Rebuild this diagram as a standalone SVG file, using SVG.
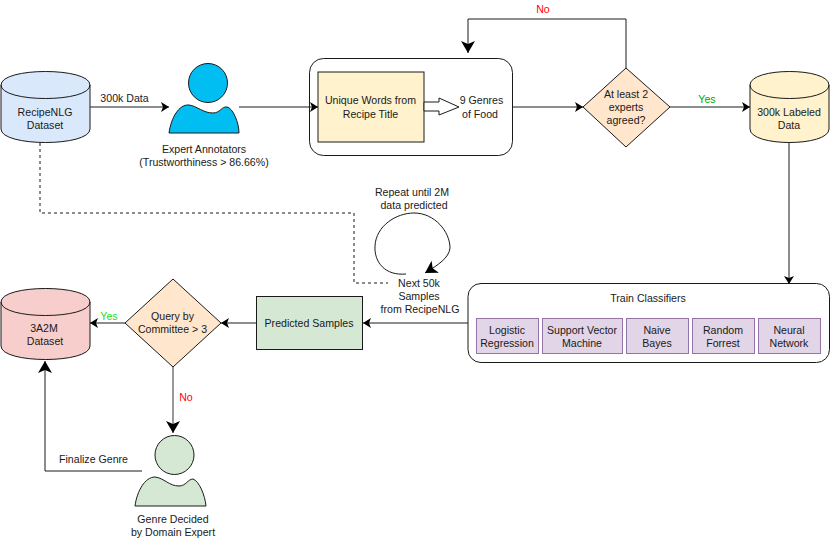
<svg xmlns="http://www.w3.org/2000/svg" width="830" height="542" viewBox="0 0 830 542">
<style>
text{font-family:"Liberation Sans",Arial,sans-serif;font-size:10.6px;fill:#1a1a1a;text-anchor:middle}
.s{stroke:#1a1a1a;stroke-width:1}
.c path{fill:none;stroke:#1a1a1a;stroke-width:1}
.clf{fill:#e1d5e7;stroke:#9673a6;stroke-width:1}
</style>
<defs>
<marker id="a" markerUnits="userSpaceOnUse" markerWidth="9" markerHeight="10" refX="8" refY="5" orient="auto"><path d="M0 0L8 5L0 10L2 5Z" fill="#000"/></marker>
<marker id="b" markerUnits="userSpaceOnUse" markerWidth="13" markerHeight="14" refX="12" refY="7" orient="auto"><path d="M0 0L12 7L0 14L3 7Z" fill="#000"/></marker>
</defs>
<g id="recipenlg">
<path class="s" d="M1 85C1 67 90 67 90 85V129C90 147 1 147 1 129Z" fill="#dae8fc"/>
<path class="s" fill="none" d="M1 85C1 103 90 103 90 85"/>
<text x="45" y="116">RecipeNLG</text><text x="45" y="129">Dataset</text>
</g>
<g id="annotators">
<circle class="s" cx="208" cy="83" r="19.500" fill="#00bef2"/>
<path class="s" fill="#00bef2" d="M169 133C171 118 179 104 189 105C197 106 203 113 213 113C220 113 222 106 227 107C233 108 239 123 239 133Z"/>
<text x="204" y="153">Expert Annotators</text><text x="204" y="166">(Trustworthiness &gt; 86.66%)</text>
</g>
<text x="124.500" y="102">300k Data</text>
<g id="genres">
<rect class="s" x="309.500" y="58.500" width="203" height="97" rx="14" fill="#fff"/>
<rect class="s" x="318" y="72" width="106" height="70" fill="#fff2cc"/>
<text x="370.500" y="104">Unique Words from</text><text x="370.500" y="118">Recipe Title</text>
<path class="s" fill="#fff" d="M424 102H439V98L459 107L439 115V111H424Z"/>
<text x="481.500" y="104">9 Genres</text><text x="480" y="118">of Food</text>
</g>
<text x="543" y="13" style="fill:#f00">No</text>
<g id="agreed">
<path class="s" fill="#ffe6cc" d="M626 68L670 107L626 147L583 107Z"/>
<text x="626" y="98">At least 2</text><text x="626" y="111">experts</text><text x="626" y="124">agreed?</text>
</g>
<text x="707" y="103" style="fill:#0a0">Yes</text>
<g id="labeled">
<path class="s" d="M750 85C750 67 829 67 829 85V129C829 147 750 147 750 129Z" fill="#fff2cc"/>
<path class="s" fill="none" d="M750 85C750 103 829 103 829 85"/>
<text x="789" y="116">300k Labeled</text><text x="789" y="129">Data</text>
</g>
<g id="classifiers">
<rect class="s" x="468" y="283.500" width="361.500" height="79" rx="13" fill="#fff"/>
<text x="648" y="302">Train Classifiers</text>
<rect class="clf" x="476.500" y="318.500" width="62" height="35"/><text x="507" y="333.500">Logistic</text><text x="507" y="346.500">Regression</text>
<rect class="clf" x="542.500" y="318.500" width="80" height="35"/><text x="582" y="333.500">Support Vector</text><text x="582" y="346.500">Machine</text>
<rect class="clf" x="626.500" y="318.500" width="62" height="35"/><text x="657" y="333.500">Naive</text><text x="657" y="346.500">Bayes</text>
<rect class="clf" x="692.500" y="318.500" width="62" height="35"/><text x="723" y="333.500">Random</text><text x="723" y="346.500">Forrest</text>
<rect class="clf" x="758.500" y="318.500" width="62" height="35"/><text x="789" y="333.500">Neural</text><text x="789" y="346.500">Network</text>
</g>
<g id="next">
<text x="419" y="287">Next 50k</text><text x="419" y="300">Samples</text><text x="420" y="313">from RecipeNLG</text>
<text x="412" y="196">Repeat until 2M</text><text x="414" y="209">data predicted</text>
</g>
<g id="predicted">
<rect class="s" x="256.500" y="296.500" width="106" height="53" fill="#d5e8d4"/>
<text x="309" y="326.500">Predicted Samples</text>
</g>
<g id="query">
<path class="s" fill="#ffe6cc" d="M173 279L221 323L173 367L125 323Z"/>
<text x="172.500" y="320">Query by</text><text x="172.500" y="333">Committee &gt; 3</text>
</g>
<text x="109" y="320" style="fill:#2d2">Yes</text>
<g id="dataset">
<path class="s" d="M1 302C1 284 90 284 90 302V346C90 364 1 364 1 346Z" fill="#f8cecc"/>
<path class="s" fill="none" d="M1 302C1 320 90 320 90 302"/>
<text x="44" y="332">3A2M</text><text x="45" y="345">Dataset</text>
</g>
<text x="186" y="401" style="fill:#f00">No</text>
<text x="93.500" y="463">Finalize Genre</text>
<g id="domain">
<circle class="s" cx="174.500" cy="455" r="19.500" fill="#d5e8d4"/>
<path class="s" fill="#d5e8d4" d="M135 506C137 491 145 477 155 477C164 478 169 486 179 486C186 486 188 479 193 479C199 481 205 495 206 506Z"/>
<text x="173" y="523">Genre Decided</text><text x="173" y="536">by Domain Expert</text>
</g>
<g class="c" id="connectors">
<path d="M90 107H169" marker-end="url(#a)"/>
<path d="M239 107H318" marker-end="url(#a)"/>
<path d="M512 107H583" marker-end="url(#a)"/>
<path d="M670 107H750" marker-end="url(#a)"/>
<path d="M626 68V19H468V53" marker-end="url(#b)"/>
<path d="M789 142V284" marker-end="url(#a)"/>
<path d="M468 323H363" marker-end="url(#a)"/>
<path d="M257 323H221" marker-end="url(#a)"/>
<path d="M125 323H90" marker-end="url(#a)"/>
<path d="M173 367V433" marker-end="url(#b)" style="stroke:#777;stroke-width:1.500"/>
<path d="M142 471H45V361" marker-end="url(#b)"/>
<path d="M40 143V213H354V283H388" stroke-dasharray="3 3"/>
<path d="M406 274C385 276 374 262 375 246C376 226 396 213 414 213C435 213 450 232 450 248C449 258 438 265 425 273" marker-end="url(#b)"/>
</g>
</svg>
